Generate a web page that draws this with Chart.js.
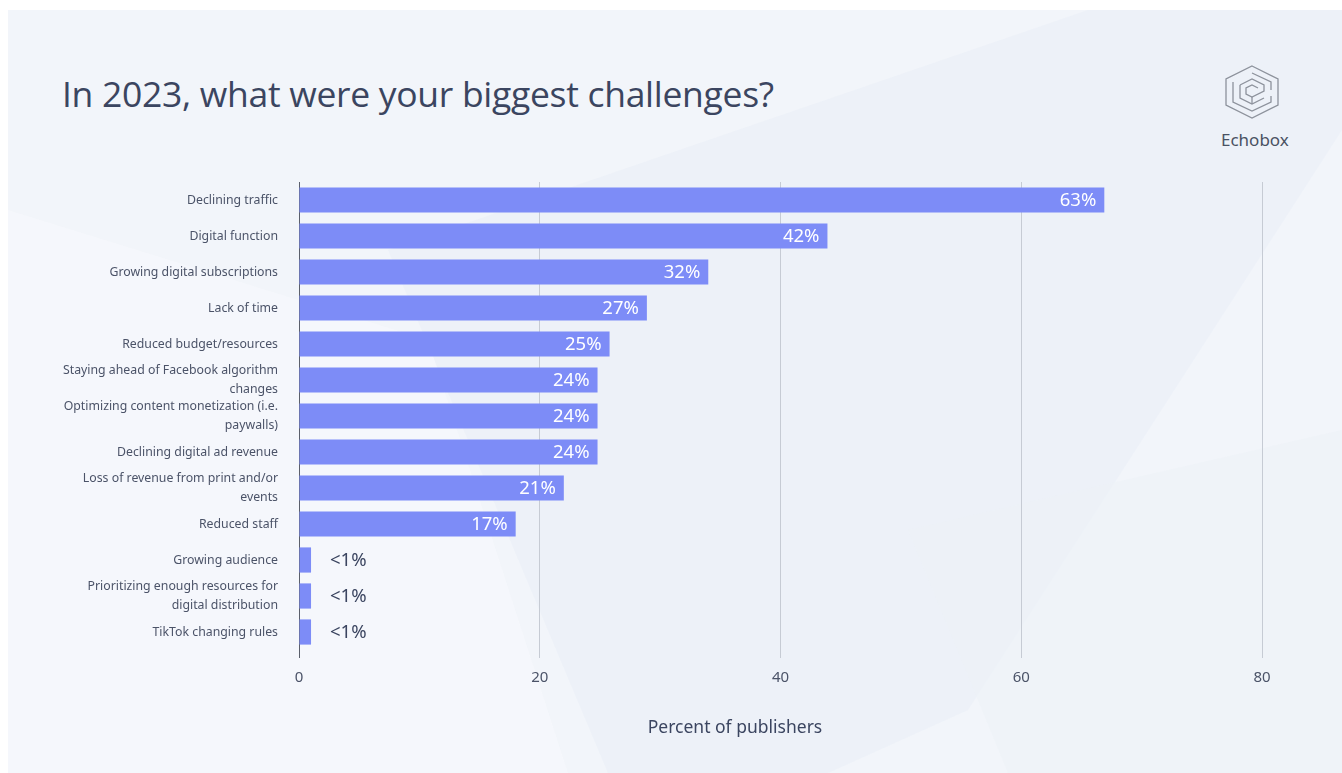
<!DOCTYPE html>
<html>
<head>
<meta charset="utf-8">
<script src="https://cdn.jsdelivr.net/npm/chart.js@4.4.1/dist/chart.umd.min.js"></script>
<style>
  html, body { margin: 0; padding: 0; }
  body { width: 1342px; height: 773px; position: relative; overflow: hidden; background: #ffffff; font-family: "Noto Sans", "Open Sans", sans-serif; }
  #bg { position: absolute; left: 8px; top: 10px; width: 1334px; height: 763px; background: #f2f5fa; }
  #bgsvg { position: absolute; left: 0; top: 0; }
  #title { position: absolute; left: 62px; top: 69px; font-size: 35.5px; color: #3b4560; font-family: "Open Sans", "Noto Sans", sans-serif; letter-spacing: -0.3px; white-space: nowrap; }
  #logo { position: absolute; left: 1220px; top: 64px; }
  #brand { position: absolute; left: 1221px; top: 128px; font-size: 17px; color: #4a5163; font-family: "Noto Sans", sans-serif; }
  #xtitle { position: absolute; left: 735px; top: 714px; transform: translateX(-50%); font-size: 17.5px; color: #3b4560; font-family: "Noto Sans", sans-serif; white-space: nowrap; }
  #wrap { position: absolute; left: 0; top: 0; width: 1342px; height: 773px; }
</style>
</head>
<body>
<div id="bg">
  <svg id="bgsvg" width="1334" height="763">
    <polygon points="380,240 1080,0 1334,0 1334,120 960,700 820,763 600,763" fill="#e9eef6" opacity="0.6"/>
    <polygon points="0,200 420,330 560,763 0,763" fill="#f6f8fc" opacity="0.7"/>
    <polygon points="900,520 1334,420 1334,763 1000,763" fill="#edf1f7" opacity="0.6"/>
  </svg>
</div>
<div id="title">In 2023, what were your biggest challenges?</div>
<svg id="logo" width="64" height="56" viewBox="0 0 64 56">
  <g fill="none" stroke="#8d929c" stroke-width="1.3">
    <polygon points="32,2 58,15 58,41 32,54 6,41 6,15"/>
    <polyline points="32,9 51,18 51,26"/>
    <polyline points="13,18 13,38 32,47 51,38 51,32"/>
    <polyline points="20,21 32,15 44,21 44,27 32,33 26,30 26,24 32,21 38,24"/>
    <polyline points="20,21 20,34 32,40 44,34"/>
    <line x1="32" y1="33" x2="32" y2="40"/>
  </g>
</svg>
<div id="brand">Echobox</div>
<div id="wrap"><canvas id="c" width="1342" height="773"></canvas></div>
<div id="xtitle">Percent of publishers</div>
<script>
const categories = [
  "Declining traffic",
  "Digital function",
  "Growing digital subscriptions",
  "Lack of time",
  "Reduced budget/resources",
  ["Staying ahead of Facebook algorithm", "changes"],
  ["Optimizing content monetization (i.e.", "paywalls)"],
  "Declining digital ad revenue",
  ["Loss of revenue from print and/or", "events"],
  "Reduced staff",
  "Growing audience",
  ["Prioritizing enough resources for", "digital distribution"],
  "TikTok changing rules"
];
// bar lengths as drawn in the picture (percent of publishers)
const barValues = [66.9, 43.9, 34.0, 28.9, 25.8, 24.8, 24.8, 24.8, 22.0, 18.0, 1.0, 1.0, 1.0];
// value labels as printed on the picture
const valueLabels = ["63%", "42%", "32%", "27%", "25%", "24%", "24%", "24%", "21%", "17%", "<1%", "<1%", "<1%"];
const xTicks = [0, 20, 40, 60, 80];

const labelPlugin = {
  id: 'valueLabels',
  afterDatasetsDraw(chart) {
    const ctx = chart.ctx;
    const meta = chart.getDatasetMeta(0);
    ctx.save();
    ctx.textBaseline = 'middle';
    meta.data.forEach((bar, i) => {
      const txt = valueLabels[i];
      const inside = barValues[i] > 5;
      ctx.font = '18.5px "Noto Sans", sans-serif';
      if (inside) {
        ctx.fillStyle = '#ffffff';
        ctx.textAlign = 'right';
        ctx.fillText(txt, bar.x - 8, bar.y + 1);
      } else {
        ctx.fillStyle = '#3b4560';
        ctx.textAlign = 'left';
        ctx.fillText(txt, bar.x + 19, bar.y + 1);
      }
    });
    ctx.restore();
  }
};

new Chart(document.getElementById('c'), {
  type: 'bar',
  data: {
    labels: categories,
    datasets: [{
      data: barValues,
      backgroundColor: '#7d8cf7',
      borderWidth: 0,
      barPercentage: 0.7,
      categoryPercentage: 1.0
    }]
  },
  options: {
    indexAxis: 'y',
    responsive: false,
    animation: false,
    events: [],
    layout: { padding: { left: 60, top: 182, right: 80, bottom: 0 } },
    plugins: { legend: { display: false }, tooltip: { enabled: false } },
    scales: {
      x: {
        min: 0, max: 80,
        afterBuildTicks(scale) { scale.ticks = xTicks.map(v => ({ value: v })); },
        grid: {
          color: (c) => c.tick && c.tick.value === 0 ? '#5a5f6b' : '#c6cbd4',
          lineWidth: 1,
          tickLength: 8,
          drawTicks: true
        },
        border: { display: false },
        ticks: { color: '#4b5368', font: { size: 15, family: '"Noto Sans", sans-serif' }, padding: 11 },
        afterFit(scale) { scale.height = 123; }
      },
      y: {
        grid: { display: false },
        border: { display: true, color: '#5a5f6b', width: 1 },
        ticks: { color: '#4b5368', font: { size: 12.3, family: '"Noto Sans", sans-serif', lineHeight: 1.5 }, padding: 13, autoSkip: false },
        afterFit(scale) { scale.width = 239; }
      }
    }
  },
  plugins: [labelPlugin]
});
</script>
</body>
</html>
